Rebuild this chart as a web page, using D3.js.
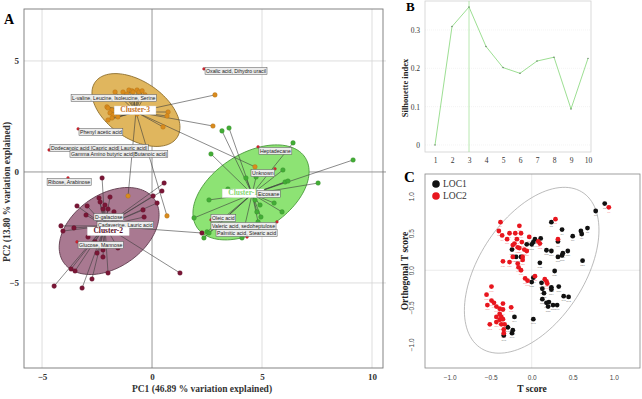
<!DOCTYPE html>
<html>
<head>
<meta charset="utf-8">
<script src="https://cdn.jsdelivr.net/npm/d3@7"></script>
<style>
  body { margin: 0; background: #fff; }
  svg { display: block; }
</style>
</head>
<body>
<svg id="fig" width="642" height="399"></svg>
<script>
// ---------- panel A : PCA scores (PC1, PC2) ----------
const cluster3 = [
  [-1.68, 3.60], [-1.32, 3.60], [-1.05, 3.69], [-0.91, 3.65], [-0.86, 3.60], [-0.68, 3.69],
  [-0.59, 3.60], [-0.45, 3.65], [-1.14, 3.51], [-0.32, 3.47], [-2.05, 2.93], [-2.00, 2.88],
  [-1.82, 2.79], [-1.91, 2.66], [-1.77, 2.57], [-1.82, 2.43], [-2.00, 2.34], [-1.55, 2.48],
  [-1.59, 2.70], [0.73, 2.70], [0.68, 2.52], [0.50, 2.03], [-0.68, 2.61], [2.86, 3.47],
  [2.77, 2.07], [4.68, 0.23], [-1.09, -1.08], [0.68, -1.98]
];
const cluster2 = [
  [-2.27, -0.27], [0.55, -0.50], [0.45, -0.86], [-2.41, -1.17], [-1.91, -1.13], [-3.41, -1.53],
  [-2.95, -1.53], [-2.36, -1.35], [-2.14, -1.49], [-2.00, -1.67], [-1.73, -1.80], [-2.23, -1.67],
  [0.23, -1.40], [0.05, -1.08], [-0.41, -1.71], [-0.36, -2.03], [-3.00, -1.94], [-4.14, -2.43],
  [-4.05, -2.66], [-3.55, -2.52], [-2.91, -2.93], [-2.68, -2.75], [2.27, -2.75], [-2.59, -3.15],
  [-2.23, -3.51], [-2.50, -3.65], [-2.23, -3.83], [-1.55, -3.42], [-3.68, -4.37], [-3.50, -4.46],
  [-2.00, -4.55], [-2.73, -4.82], [1.27, -4.55], [-4.45, -5.14], [-3.18, -5.23]
];
const cluster1 = [
  [3.18, 1.85], [3.50, 1.98], [2.68, 0.81], [6.41, 1.31], [9.14, 0.54], [5.95, 0.09],
  [4.27, -0.27], [4.73, -0.23], [6.05, -0.45], [6.18, -0.41], [7.55, -0.50], [3.45, -0.77],
  [2.59, -1.26], [5.55, -1.40], [5.91, -1.80], [4.77, -1.80], [4.95, -2.03], [1.91, -2.07],
  [2.50, -2.70], [2.36, -2.97], [2.59, -2.75], [4.09, -2.97], [4.68, -1.26], [4.91, -1.49],
  [4.82, -2.25]
];
const clusterNames = ['Cluster-3', 'Cluster-2', 'Cluster-1'];
const centroids = [[-0.73, 2.70], [-2.14, -2.43], [4.55, -0.99]];
// where each cluster name is written (PC1, PC2)
const clusterLabelAt = [[-0.77, 2.79], [-1.99, -2.66], [4.14, -0.95]];
// confidence ellipses: centre, half width, half height, skew (deg)
const ellipses = [
  { cx: -0.73, cy: 2.79, rx: 2.00, ry: 1.64, skew: -28 },
  { cx: -1.95, cy: -2.66, rx: 2.27, ry: 1.96, skew: 22 },
  { cx: 4.50, cy: -0.92, rx: 2.64, ry: 2.14, skew: 26 }
];
// annotated compounds: marker (x, y) and label anchor (lx, ly)
const compounds = [
  { name: 'Oxalic acid, Dihydro uracil', x: 2.36, y: 4.64, lx: 2.41, ly: 4.55 },
  { name: 'L-valine, Leucine, Isoleucine, Serine', x: null, y: null, lx: -3.68, ly: 3.33 },
  { name: 'Phenyl acetic acid', x: -3.36, y: 1.94, lx: -3.32, ly: 1.80 },
  { name: 'Dodecanoic acid |Capric acid| Lauric acid|', x: -4.68, y: 0.99, lx: -4.64, ly: 1.08 },
  { name: 'Gamma Amino butyric acid|Butanoic acid|', x: null, y: null, lx: -3.73, ly: 0.81 },
  { name: 'Ribose, Arabinose', x: -3.82, y: -0.27, lx: -4.77, ly: -0.45 },
  { name: 'D-galactose', x: null, y: null, lx: -2.64, ly: -2.03 },
  { name: 'Cadaverine, Lauric acid', x: null, y: null, lx: -2.50, ly: -2.39 },
  { name: 'Glucose, Mannose', x: -3.41, y: -3.15, lx: -3.36, ly: -3.29 },
  { name: 'Heptadecane', x: 4.82, y: 1.13, lx: 4.86, ly: 0.95 },
  { name: 'Unknown', x: 5.59, y: 0.14, lx: 4.50, ly: -0.05 },
  { name: 'Eicosane', x: null, y: null, lx: 4.77, ly: -0.99 },
  { name: 'Oleic acid', x: 2.68, y: -2.16, lx: 2.68, ly: -2.07 },
  { name: 'Valeric acid, sedoheptulose', x: 5.68, y: -2.25, lx: 2.68, ly: -2.43 },
  { name: 'Palmitic acid, Stearic acid', x: 4.32, y: -2.93, lx: 2.91, ly: -2.75 }
];

// ---------- panel B : silhouette ----------
const kValues = [1, 2, 3, 4, 5, 6, 7, 8, 9, 10];
const silhouette = [0.0, 0.309, 0.36, 0.257, 0.202, 0.187, 0.219, 0.229, 0.094, 0.226];
const bestK = 3;

// ---------- panel C : OPLS-DA scores (T, orthogonal T) ----------
const loc1 = [
  [0.78, 0.80], [0.89, 0.90], [0.24, 0.65], [0.37, 0.55], [0.32, 0.39], [0.50, 0.46],
  [0.68, 0.57], [0.60, 0.53], [0.61, 0.49], [0.04, 0.42], [0.11, 0.43], [-0.06, 0.35],
  [0.00, 0.35], [0.02, 0.38], [0.18, 0.27], [0.24, 0.26], [0.32, 0.18], [0.37, 0.20],
  [0.38, 0.23], [0.44, 0.26], [0.62, 0.13], [0.10, 0.10], [-0.24, 0.28], [-0.19, 0.18],
  [-0.13, 0.18], [0.28, -0.01], [0.02, -0.10], [0.00, -0.16], [0.12, -0.17], [0.33, -0.22],
  [0.13, -0.25], [0.15, -0.31], [0.24, -0.23], [0.24, -0.26], [0.13, -0.39], [0.18, -0.44],
  [0.21, -0.43], [0.20, -0.49], [0.26, -0.47], [0.31, -0.47], [0.39, -0.35], [0.45, -0.36],
  [0.02, -0.66], [-0.21, -0.63], [-0.29, -0.77], [-0.23, -0.81], [-0.24, -0.85], [-0.34, -0.88]
];
const loc2 = [
  [0.94, 0.85], [0.29, 0.69], [0.32, 0.42], [-0.38, 0.65], [-0.40, 0.53], [-0.36, 0.47],
  [-0.27, 0.50], [-0.15, 0.60], [-0.20, 0.50], [-0.13, 0.50], [-0.30, 0.42], [-0.18, 0.42],
  [-0.12, 0.38], [-0.03, 0.45], [-0.09, 0.28], [-0.21, 0.36], [-0.23, 0.34], [-0.17, 0.31],
  [-0.15, 0.30], [-0.06, 0.26], [0.08, 0.39], [0.10, 0.36], [-0.23, 0.18], [-0.11, 0.18],
  [-0.11, 0.14], [-0.35, 0.12], [-0.27, 0.11], [-0.17, 0.09], [-0.16, 0.04], [-0.13, 0.00],
  [-0.08, -0.11], [-0.05, -0.14], [0.04, -0.08], [0.16, -0.12], [0.18, -0.15], [0.19, -0.18],
  [-0.49, -0.22], [-0.55, -0.33], [-0.49, -0.41], [-0.46, -0.44], [-0.43, -0.49], [-0.35, -0.45],
  [-0.39, -0.52], [-0.35, -0.53], [-0.25, -0.50], [-0.39, -0.59], [-0.43, -0.63], [-0.37, -0.63],
  [-0.39, -0.67], [-0.35, -0.66], [-0.43, -0.70], [-0.51, -0.73], [-0.37, -0.73], [-0.33, -0.73],
  [-0.54, -0.47], [-0.34, -0.80], [-0.34, -0.85]
];
const groupNames = ['LOC1', 'LOC2'];
const scoreEllipse = { cx: 0, cy: 0, rx: 0.82, ry: 1.12, skew: 29 };

const serif = '"Liberation Serif", "DejaVu Serif", serif';
const sans = '"Liberation Sans", Arial, sans-serif';

const svg = d3.select('#fig');

function ellipsePath(e, xs, ys) {
  const pts = d3.range(0, 360, 3).map(a => {
    const t = a * Math.PI / 180;
    return [xs(e.cx + e.rx * Math.cos(t)), ys(e.cy + e.ry * Math.sin(t + e.skew * Math.PI / 180))];
  });
  return d3.line()(pts) + 'Z';
}

// =================== Panel A ===================
const xA = d3.scaleLinear().domain([-5.82, 10.5]).range([24, 383]);
const yA = d3.scaleLinear().domain([-8.83, 7.34]).range([368, 9]);
const chartA = svg.append('g');

chartA.selectAll('.vgrid').data([-5, 5, 10]).join('line')
  .attr('x1', d => xA(d)).attr('x2', d => xA(d))
  .attr('y1', 9).attr('y2', 368)
  .attr('stroke', '#d4d4d4').attr('stroke-width', 0.8);
chartA.selectAll('.hgrid').data([5, -5]).join('line')
  .attr('x1', 24).attr('x2', 386)
  .attr('y1', d => yA(d)).attr('y2', d => yA(d))
  .attr('stroke', '#d4d4d4').attr('stroke-width', 0.8);
chartA.append('line').attr('x1', xA(0)).attr('x2', xA(0)).attr('y1', 9).attr('y2', 368)
  .attr('stroke', '#8a8a8a').attr('stroke-width', 0.9);
chartA.append('line').attr('x1', 24).attr('x2', 386).attr('y1', yA(0)).attr('y2', yA(0))
  .attr('stroke', '#8a8a8a').attr('stroke-width', 0.9);
chartA.append('rect').attr('x', 24).attr('y', 9).attr('width', 359).attr('height', 359)
  .attr('fill', 'none').attr('stroke', '#777').attr('stroke-width', 0.9);

const clusterPts = [cluster3, cluster2, cluster1];
const clusterFill = ['#e0b65e', '#a97991', '#8de374'];
const clusterStroke = ['#8c6d2c', '#5e3a4c', '#4b9a3c'];
const clusterDot = ['#d98b1d', '#7a1636', '#43ad36'];
const clusterText = ['#c8742a', '#5a1028', '#86d873'];

chartA.selectAll('.ell').data(ellipses).join('path')
  .attr('d', e => ellipsePath(e, xA, yA))
  .attr('fill', (d, i) => clusterFill[i])
  .attr('stroke', (d, i) => clusterStroke[i])
  .attr('stroke-width', 0.9);

clusterPts.forEach((pts, i) => {
  chartA.append('g').selectAll('line').data(pts).join('line')
    .attr('x1', xA(centroids[i][0])).attr('y1', yA(centroids[i][1]))
    .attr('x2', d => xA(d[0])).attr('y2', d => yA(d[1]))
    .attr('stroke', '#3c3c3c').attr('stroke-width', 0.6);
});
clusterPts.forEach((pts, i) => {
  chartA.append('g').selectAll('circle').data(pts).join('circle')
    .attr('cx', d => xA(d[0])).attr('cy', d => yA(d[1]))
    .attr('r', 2.3)
    .attr('fill', clusterDot[i])
    .attr('stroke', d3.color(clusterDot[i]).darker(0.6)).attr('stroke-width', 0.4);
});

// compound markers
chartA.append('g').selectAll('circle').data(compounds.filter(d => d.x !== null)).join('circle')
  .attr('cx', d => xA(d.x)).attr('cy', d => yA(d.y))
  .attr('r', 1.4).attr('fill', '#e0242c').attr('stroke', '#7a1020').attr('stroke-width', 0.3);

function drawClusterLabel(i) {
  const g = chartA.append('g');
  const px = xA(clusterLabelAt[i][0]), py = yA(clusterLabelAt[i][1]);
  const t = g.append('text')
    .attr('x', px).attr('y', py + 0.5)
    .attr('text-anchor', 'middle').attr('dominant-baseline', 'middle')
    .style('font-family', serif).style('font-size', '7.5px').style('font-weight', 'bold')
    .attr('fill', clusterText[i]).text(clusterNames[i]);
  const w = t.node().getComputedTextLength() + 12;
  g.insert('rect', 'text')
    .attr('x', px - w / 2).attr('y', py - 4)
    .attr('width', w).attr('height', 8.5)
    .attr('fill', '#fff').attr('stroke', '#ddd').attr('stroke-width', 0.4);
}

// Cluster-1 sits underneath the compound boxes, the other two on top
drawClusterLabel(2);

compounds.forEach(d => {
  const g = chartA.append('g');
  const t = g.append('text')
    .attr('x', xA(d.lx) + 1).attr('y', yA(d.ly) + 0.3)
    .attr('dominant-baseline', 'middle')
    .style('font-family', sans).style('font-size', '5.2px')
    .attr('fill', '#222').text(d.name);
  const w = t.node().getComputedTextLength() + 2;
  g.insert('rect', 'text')
    .attr('x', xA(d.lx)).attr('y', yA(d.ly) - 3.5)
    .attr('width', w).attr('height', 7)
    .attr('fill', '#ececec').attr('stroke', '#555').attr('stroke-width', 0.5);
});

drawClusterLabel(0);
drawClusterLabel(1);

chartA.append('g').attr('transform', 'translate(0,368)')
  .call(d3.axisBottom(xA).tickValues([-5, 0, 5, 10]).tickSize(0).tickPadding(6))
  .call(g => g.select('.domain').remove())
  .selectAll('text').style('font-family', serif).style('font-size', '9px')
  .style('font-weight', 'bold').attr('fill', '#333');
chartA.append('g').attr('transform', 'translate(24,0)')
  .call(d3.axisLeft(yA).tickValues([-5, 0, 5]).tickSize(0).tickPadding(5))
  .call(g => g.select('.domain').remove())
  .selectAll('text').style('font-family', serif).style('font-size', '9px')
  .style('font-weight', 'bold').attr('fill', '#333');

chartA.append('text').attr('x', 202).attr('y', 392).attr('text-anchor', 'middle')
  .style('font-family', serif).style('font-size', '9.5px').style('font-weight', 'bold')
  .attr('fill', '#333').text('PC1 (46.89 % variation explained)');
chartA.append('text').attr('transform', 'translate(10,192) rotate(-90)').attr('text-anchor', 'middle')
  .style('font-family', serif).style('font-size', '9.5px').style('font-weight', 'bold')
  .attr('fill', '#333').text('PC2 (13.80 % variation explained)');
chartA.append('text').attr('x', 4).attr('y', 24)
  .style('font-family', serif).style('font-size', '14px').style('font-weight', 'bold').text('A');

// =================== Panel B ===================
const xB = d3.scaleLinear().domain([1, 10]).range([435, 588]);
const yB = d3.scaleLinear().domain([0, 0.3]).range([145, 30]);
const chartB = svg.append('g');

chartB.selectAll('.bgrid').data([0, 0.1, 0.2, 0.3]).join('line')
  .attr('x1', 425).attr('x2', 591)
  .attr('y1', d => yB(d)).attr('y2', d => yB(d))
  .attr('stroke', '#ececec').attr('stroke-width', 0.6).attr('stroke-dasharray', '1,1');
chartB.append('rect').attr('x', 425).attr('y', 1).attr('width', 166).attr('height', 151)
  .attr('fill', 'none').attr('stroke', '#d0d0d0').attr('stroke-width', 0.8);
chartB.append('line').attr('x1', xB(bestK)).attr('x2', xB(bestK)).attr('y1', 1).attr('y2', 152)
  .attr('stroke', '#a6e29c').attr('stroke-width', 0.8);
chartB.append('path').datum(kValues.map((k, i) => [k, silhouette[i]]))
  .attr('d', d3.line().x(d => xB(d[0])).y(d => yB(d[1])))
  .attr('fill', 'none').attr('stroke', '#9ddf93').attr('stroke-width', 1);
chartB.append('g').selectAll('circle').data(kValues).join('circle')
  .attr('cx', d => xB(d)).attr('cy', (d, i) => yB(silhouette[i]))
  .attr('r', 0.7).attr('fill', '#557755');

chartB.append('g').attr('transform', 'translate(0,152)')
  .call(d3.axisBottom(xB).tickValues(kValues).tickFormat(d3.format('d')).tickSize(0).tickPadding(6))
  .call(g => g.select('.domain').remove())
  .selectAll('text').style('font-family', serif).style('font-size', '7.5px').attr('fill', '#333');
chartB.append('g').attr('transform', 'translate(425,0)')
  .call(d3.axisLeft(yB).tickValues([0, 0.1, 0.2, 0.3]).tickFormat(d => d === 0 ? '0' : d3.format('.1f')(d))
    .tickSize(0).tickPadding(5))
  .call(g => g.select('.domain').remove())
  .selectAll('text').style('font-family', serif).style('font-size', '7.5px').attr('fill', '#333');
chartB.append('text').attr('transform', 'translate(408,88) rotate(-90)').attr('text-anchor', 'middle')
  .style('font-family', serif).style('font-size', '8.5px').style('font-weight', 'bold')
  .attr('fill', '#222').text('Silhouette index');
chartB.append('text').attr('x', 406).attr('y', 11)
  .style('font-family', serif).style('font-size', '13px').style('font-weight', 'bold').text('B');

// =================== Panel C ===================
const xC = d3.scaleLinear().domain([-1.30, 1.32]).range([425, 640]);
const yC = d3.scaleLinear().domain([-1.32, 1.30]).range([368, 174]);
const chartC = svg.append('g');

chartC.append('line').attr('x1', xC(0)).attr('x2', xC(0)).attr('y1', 174).attr('y2', 368)
  .attr('stroke', '#e4e4e4').attr('stroke-width', 0.7);
chartC.append('line').attr('x1', 425).attr('x2', 640).attr('y1', yC(0)).attr('y2', yC(0))
  .attr('stroke', '#e4e4e4').attr('stroke-width', 0.7);
chartC.append('rect').attr('x', 425).attr('y', 174).attr('width', 215).attr('height', 194)
  .attr('fill', 'none').attr('stroke', '#888').attr('stroke-width', 0.8);
chartC.append('path').attr('d', ellipsePath(scoreEllipse, xC, yC))
  .attr('fill', 'none').attr('stroke', '#aaa').attr('stroke-width', 0.8);

const groups = [loc1, loc2];
const groupColor = ['#111', '#e8161e'];
const groupLabelColor = ['#777', '#f3898e'];
groups.forEach((pts, gi) => {
  chartC.append('g').selectAll('text').data(pts).join('text')
    .attr('x', d => xC(d[0])).attr('y', d => yC(d[1]) + 5.2)
    .attr('text-anchor', 'middle')
    .style('font-family', sans).style('font-size', '2.5px')
    .attr('fill', groupLabelColor[gi])
    .text((d, i) => (gi === 0 ? 'N' : 'S') + (i + 1));
});
groups.forEach((pts, gi) => {
  chartC.append('g').selectAll('circle').data(pts).join('circle')
    .attr('cx', d => xC(d[0])).attr('cy', d => yC(d[1]))
    .attr('r', 2.4).attr('fill', groupColor[gi]);
});

chartC.append('g').attr('transform', 'translate(0,368)')
  .call(d3.axisBottom(xC).tickValues([-1, -0.5, 0, 0.5, 1]).tickFormat(d3.format('.1f')).tickSize(0).tickPadding(7))
  .call(g => g.select('.domain').remove())
  .selectAll('text').style('font-family', sans).style('font-size', '6.5px').attr('fill', '#444')
  .text(d => d3.format('.1f')(d).replace('-', '\u2212'));
chartC.append('g').attr('transform', 'translate(425,0)')
  .call(d3.axisLeft(yC).tickValues([-1, -0.5, 0, 0.5, 1]).tickSize(0).tickPadding(0))
  .call(g => g.select('.domain').remove())
  .selectAll('text')
  .attr('x', null).attr('dy', null)
  .attr('text-anchor', 'middle')
  .attr('transform', 'translate(-11,0) rotate(-90)')
  .style('font-family', sans).style('font-size', '6.5px').attr('fill', '#444')
  .text(d => d3.format('.1f')(d).replace('-', '\u2212'));

chartC.append('text').attr('x', 532).attr('y', 392).attr('text-anchor', 'middle')
  .style('font-family', serif).style('font-size', '9.5px').style('font-weight', 'bold')
  .attr('fill', '#222').text('T score');
chartC.append('text').attr('transform', 'translate(408,271) rotate(-90)').attr('text-anchor', 'middle')
  .style('font-family', serif).style('font-size', '9.5px').style('font-weight', 'bold')
  .attr('fill', '#222').text('Orthogonal T score');
chartC.append('text').attr('x', 404).attr('y', 182)
  .style('font-family', serif).style('font-size', '15px').style('font-weight', 'bold').text('C');

// legend
const legend = chartC.append('g').selectAll('g').data(groupNames).join('g')
  .attr('transform', (d, i) => `translate(436,${184 + i * 12})`);
legend.append('circle').attr('r', 3.8).attr('fill', (d, i) => groupColor[i]);
legend.append('text').attr('x', 7).attr('y', 3.2)
  .style('font-family', serif).style('font-size', '9.5px').attr('fill', '#333').text(d => d);
</script>
</body>
</html>
